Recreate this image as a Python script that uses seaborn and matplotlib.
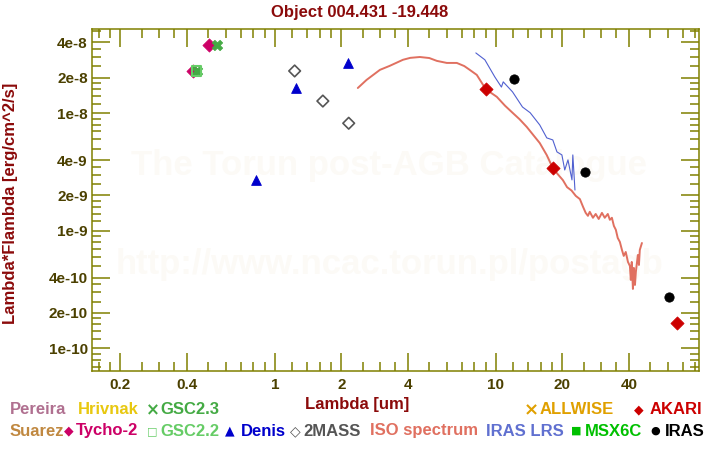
import numpy as np
import pandas as pd
import matplotlib
matplotlib.use("Agg")
import matplotlib.pyplot as plt
import matplotlib.ticker as mticker
import seaborn as sns

# ---------------- data ----------------
title = "Object 004.431 -19.448"

tycho_wl = [0.426, 0.503]
tycho_f = [2.29e-8, 3.81e-8]

gsc23_wl = [0.444, 0.547]
gsc23_f = [2.29e-8, 3.81e-8]

gsc22_wl = [0.444]
gsc22_f = [2.29e-8]

denis_wl = [0.82, 1.245, 2.14]
denis_f = [2.70e-9, 1.63e-8, 2.67e-8]

tmass_wl = [1.23, 1.65, 2.16]
tmass_f = [2.29e-8, 1.27e-8, 8.22e-9]

akari_wl = [9.0, 18.1, 65.9]
akari_f = [1.60e-8, 3.40e-9, 1.63e-10]

iras_wl = [12.1, 25.4, 60.8]
iras_f = [1.94e-8, 3.15e-9, 2.72e-10]

iso_wl = [2.375, 2.6, 2.99, 3.31, 3.80, 4.1, 4.53, 5.0, 5.41, 6.00, 6.66, 7.2, 7.62,
          8.20, 9.01, 10.1, 11.0, 11.9, 12.8, 13.8, 14.7, 15.8, 17.0, 18.1, 19.0,
          20.1, 21.0, 22.0, 23.0, 24.0, 24.8, 25.5, 26.1, 26.6, 27.5,
          28.3, 29.2, 30.2, 31.1, 32.1, 32.8, 33.5, 34.2, 34.9, 35.6, 36.4, 37.2,
          37.9, 38.7, 39.6, 40.4, 40.8, 41.2, 41.7, 42.1, 42.6, 43.0, 43.9, 44.4,
          44.8, 45.8]
iso_f = [1.64e-8, 1.92e-8, 2.34e-8, 2.53e-8, 2.85e-8, 2.96e-8, 3.01e-8, 2.95e-8,
         2.79e-8, 2.68e-8, 2.68e-8, 2.52e-8, 2.34e-8, 2.12e-8, 1.60e-8, 1.38e-8,
         1.16e-8, 1.01e-8, 8.90e-9, 7.65e-9, 6.60e-9, 5.58e-9, 4.40e-9, 3.42e-9,
         3.05e-9, 2.70e-9, 2.35e-9, 2.20e-9, 1.98e-9, 1.86e-9, 1.60e-9, 1.42e-9,
         1.34e-9, 1.45e-9, 1.29e-9, 1.39e-9, 1.26e-9, 1.42e-9, 1.29e-9, 1.39e-9,
         1.24e-9, 1.29e-9, 1.10e-9, 1.02e-9, 8.69e-10, 8.04e-10, 6.87e-10, 6.11e-10,
         6.60e-10, 5.43e-10, 5.02e-10, 3.82e-10, 5.43e-10, 3.20e-10, 4.83e-10,
         3.46e-10, 4.47e-10, 6.22e-10, 5.12e-10, 6.87e-10, 7.87e-10]

lrs_wl = [8.12, 8.92, 9.89, 10.6, 10.8, 11.9, 13.2, 14.3, 15.8, 17.0, 18.1, 18.9,
          19.9, 20.5, 21.2, 22.1, 22.3, 22.8]
lrs_f = [3.26e-8, 2.85e-8, 2.04e-8, 1.67e-8, 1.85e-8, 1.52e-8, 1.13e-8, 1.01e-8,
         7.95e-9, 6.17e-9, 5.93e-9, 4.69e-9, 4.42e-9, 3.29e-9, 4.01e-9, 2.71e-9,
         4.42e-9, 2.22e-9]

x_ticks = [0.2, 0.4, 1, 2, 4, 10, 20, 40]
x_ticklabels = ["0.2", "0.4", "1", "2", "4", "10", "20", "40"]
y_ticks = [1e-10, 2e-10, 4e-10, 1e-9, 2e-9, 4e-9, 1e-8, 2e-8, 4e-8]
y_ticklabels = ["1e-10", "2e-10", "4e-10", "1e-9", "2e-9", "4e-9", "1e-8", "2e-8", "4e-8"]

# ---------------- style ----------------
sns.set_theme(style="white")
plt.rcParams['font.family'] = ['Liberation Sans', 'DejaVu Sans']
plt.rcParams['font.weight'] = 'bold'

OLIVE = "#808000"
TICKC = "#4B4000"
DARKRED = "#8B0A0A"

fig = plt.figure(figsize=(7.2, 4.5), dpi=100)
ax = fig.add_axes([92/720, 1-371/450, (699-92)/720, (371-29)/450])
ax.set_xscale("log")
ax.set_yscale("log")
ax.set_xlim(0.149, 83)
ax.set_ylim(6.41e-11, 5.21e-8)

# watermark
ax.text(0.49, 0.6, "The Torun post-AGB Catalogue", transform=ax.transAxes,
        ha="center", va="center", fontsize=25, fontweight="bold", color="#FCFAF6", zorder=0)
ax.text(0.49, 0.31, "http://www.ncac.torun.pl/postagb", transform=ax.transAxes,
        ha="center", va="center", fontsize=25, fontweight="bold", color="#FCFAF6", zorder=0)

iso_df = pd.DataFrame({"wl": iso_wl, "f": iso_f})
lrs_df = pd.DataFrame({"wl": lrs_wl, "f": lrs_f})
sns.lineplot(data=iso_df, x="wl", y="f", ax=ax, color="#E07060", lw=1.4,
             estimator=None, sort=False, zorder=2)
sns.lineplot(data=lrs_df, x="wl", y="f", ax=ax, color="#5060D0", lw=0.8,
             estimator=None, sort=False, zorder=2)

sns.scatterplot(x=tycho_wl, y=tycho_f, ax=ax, marker="D", s=45, color="#CC0066",
                edgecolor="#CC0066", zorder=3)
sns.scatterplot(x=gsc23_wl, y=gsc23_f, ax=ax, marker="X", s=55, color="#44AA44",
                edgecolor="#44AA44", zorder=4)
sns.scatterplot(x=gsc22_wl, y=gsc22_f, ax=ax, marker="s", s=45, facecolor="none",
                edgecolor="#66CC66", linewidth=1.5, zorder=5)
sns.scatterplot(x=denis_wl, y=denis_f, ax=ax, marker="^", s=50, color="#0000CC",
                edgecolor="#0000CC", zorder=4)
sns.scatterplot(x=tmass_wl, y=tmass_f, ax=ax, marker="D", s=35, facecolor="none",
                edgecolor="#555555", linewidth=1.2, zorder=4)
sns.scatterplot(x=akari_wl, y=akari_f, ax=ax, marker="D", s=45, color="#CC0000",
                edgecolor="#CC0000", zorder=4)
sns.scatterplot(x=iras_wl, y=iras_f, ax=ax, marker="o", s=45, color="black",
                edgecolor="black", zorder=4)

# ticks
subs = [1.2, 1.4, 1.6, 1.8, 2.5, 3, 3.5, 5, 6, 7, 8, 9]
xminor = [s * 10.0**d for d in range(-2, 3) for s in subs]
yminor = [s * 10.0**d for d in range(-12, -6) for s in subs]
ax.xaxis.set_major_locator(mticker.FixedLocator(x_ticks))
ax.xaxis.set_major_formatter(mticker.FixedFormatter(x_ticklabels))
ax.xaxis.set_minor_locator(mticker.FixedLocator(xminor))
ax.xaxis.set_minor_formatter(mticker.NullFormatter())
ax.yaxis.set_major_locator(mticker.FixedLocator(y_ticks))
ax.yaxis.set_major_formatter(mticker.FixedFormatter(y_ticklabels))
ax.yaxis.set_minor_locator(mticker.FixedLocator(yminor))
ax.yaxis.set_minor_formatter(mticker.NullFormatter())

ax.tick_params(which="both", direction="in", top=True, right=True, bottom=True, left=True,
               color=OLIVE, width=1.1)
ax.tick_params(which="major", length=13)
ax.tick_params(which="minor", length=6.5)
ax.tick_params(axis="x", which="major", labelsize=11, labelcolor=TICKC, pad=5)
ax.tick_params(axis="y", which="major", labelsize=11, labelcolor=TICKC, pad=3)
for lab in ax.get_xticklabels() + ax.get_yticklabels():
    lab.set_fontweight("bold")
for sp in ax.spines.values():
    sp.set_color(OLIVE)
    sp.set_linewidth(1.1)
    sp.set_visible(True)

ax.set_xlabel("")
ax.set_ylabel("")
fig.text(360/720, 1-12/450, title, ha="center", va="center", fontsize=12,
         fontweight="bold", color=DARKRED)
fig.text(357/720, 1-404/450, "Lambda [um]", ha="center", va="center", fontsize=12,
         fontweight="bold", color=DARKRED)
fig.text(11/720, 1-203/450, "Lambda*Flambda [erg/cm^2/s]", ha="center", va="center",
         rotation=90, fontsize=12, fontweight="bold", color=DARKRED)

# legend (text rows below plot)
row1 = 1 - 410/450
row2 = 1 - 431/450
fam = ['DejaVu Sans']
entries = [
    (10, row1, "Pereira", "#B07090", 12, None),
    (78, row1, "Hrivnak", "#E8C810", 12, None),
    (146, row1, "×", "#44AA44", 12, fam),
    (160, row1, "GSC2.3", "#44AA44", 12, None),
    (524, row1, "×", "#E0A000", 13, fam),
    (540, row1, "ALLWISE", "#E0A000", 12, None),
    (634, row1, "◆", "#CC0000", 9, fam),
    (650, row1, "AKARI", "#CC0000", 12, None),
    (10, row2, "Suarez", "#C08840", 12, None),
    (64, row2, "◆", "#CC0066", 9, fam),
    (76, row2, "Tycho-2", "#CC0066", 12, None),
    (147, row2, "□", "#66CC66", 8, fam),
    (160, row2, "GSC2.2", "#66CC66", 12, None),
    (225, row2, "▲", "#0000CC", 9, fam),
    (241, row2, "Denis", "#0000CC", 12, None),
    (290, row2, "◇", "#555555", 10, fam),
    (303, row2, "2MASS", "#555555", 12, None),
    (370, row2, "ISO spectrum", "#E07060", 12, None),
    (486, row2, "IRAS LRS", "#6070D0", 12, None),
    (571, row2, "■", "#00C000", 8, fam),
    (585, row2, "MSX6C", "#00C000", 12, None),
    (650, row2, "●", "#000000", 8, fam),
    (665, row2, "IRAS", "#000000", 12, None),
]
for x, y, t, c, fs, f in entries:
    kw = {} if f is None else {"family": f}
    fig.text(x/720, y, t, ha="left", va="center", fontsize=fs, fontweight="bold",
             color=c, **kw)

fig.savefig("out.png", dpi=100)
